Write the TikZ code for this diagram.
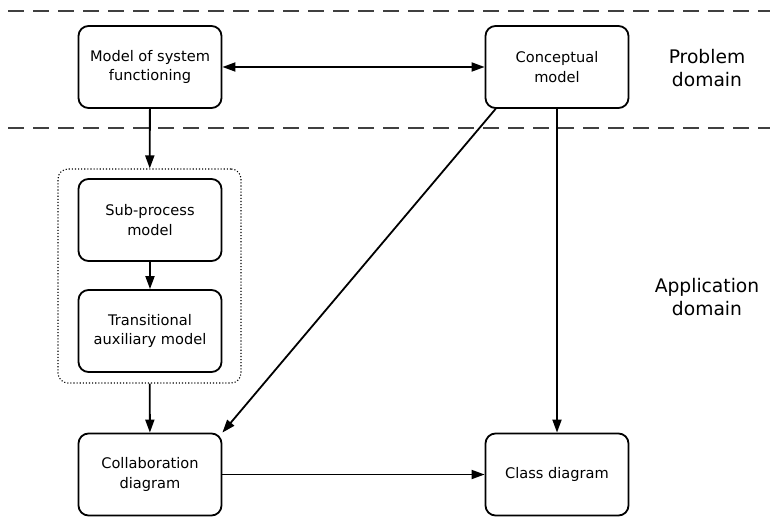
\documentclass[tikz,border=0pt]{standalone}
\usepackage{fontspec}
\setmainfont{DejaVu Sans}
\usetikzlibrary{arrows.meta,positioning,calc}
\begin{document}
\begin{tikzpicture}[x=1pt,y=1pt,
  box/.style={draw,line width=1.8pt,rounded corners=10pt,minimum width=143pt,minimum height=82pt,align=center,font=\fontsize{14.6}{19.5}\selectfont,inner sep=0pt},
  conn/.style={line width=1.8pt,-{Triangle[length=13pt,width=9pt]}},
  sep/.style={line width=1.3pt,dash pattern=on 16pt off 9pt,black!75},
  dom/.style={align=center,font=\fontsize{18.7}{23}\selectfont}]
\useasboundingbox (0,0) rectangle (770,-521);
\draw[sep] (8,-11) -- (770,-11);
\draw[sep] (8,-128) -- (770,-128);
\node[box] (msf) at (150,-67) {Model of system\\functioning};
\node[box] (cm) at (557,-67) {Conceptual\\model};
\node[box] (sp) at (150,-220) {Sub-process\\model};
\node[box] (ta) at (150,-331) {Transitional\\auxiliary model};
\node[box] (cd) at (150,-474.5) {Collaboration\\diagram};
\node[box] (cl) at (557,-474.5) {Class diagram};
\node[draw,dotted,line width=1.1pt,rounded corners=10pt,minimum width=183pt,minimum height=214pt] (grp) at (149.5,-276) {};
\node[dom] (pd) at (707,-68) {Problem\\domain};
\node[dom] (ad) at (707,-297) {Application\\domain};
\draw[line width=1.8pt,{Triangle[length=13pt,width=9pt]}-{Triangle[length=13pt,width=9pt]}] (msf) -- (cm);
\draw[conn] (msf) -- (grp);
\draw[conn] (sp) -- (ta);
\draw[conn] (grp) -- (cd);
\draw[conn] ($(cm.south west)+(11,0)$) -- (cd.north east);
\draw[conn] (cm) -- (cl);
\draw[conn] (cd) -- (cl);
\end{tikzpicture}
\end{document}
